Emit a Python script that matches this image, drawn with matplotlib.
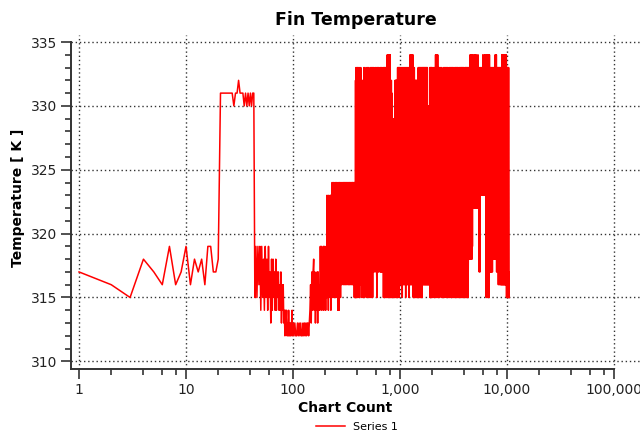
import matplotlib.pyplot as plt
from matplotlib.ticker import LogLocator, MultipleLocator, FuncFormatter, NullFormatter

# keep every vertex of the oscillating trace
plt.rcParams['path.simplify'] = False

# start-up: one value per iteration, 1-43
startup_counts = list(range(1, 44))
startup_temps = [317, 316, 315, 318, 317, 316, 319, 316, 317, 319,
                 316, 318, 317, 318, 316, 319, 319, 317, 317, 318,
                 331, 331, 331, 331, 331, 331, 331, 330, 331, 331,
                 332, 331, 331, 331, 330, 331, 330, 331, 330, 331,
                 330, 331, 331]

# sudden drop and cool-down, iterations 44-99
cooldown_counts = list(range(44, 100))
cooldown_temps = [315, 319, 315, 319, 316, 319, 314, 319, 315, 318,
                  314, 319, 315, 318, 314, 319, 315, 317, 313, 318,
                  314, 318, 315, 317, 314, 318, 314, 317, 315, 317,
                  314, 316, 314, 317, 313, 316, 314, 316, 313, 314,
                  312, 314, 313, 314, 312, 313, 312, 314, 312, 313,
                  312, 313, 312, 313, 314, 312]

# recovery, every 2nd iteration from 100
recovery_counts = list(range(100, 400, 2))
recovery_temps = [313, 312, 313, 312, 312, 313, 312, 313, 312, 313,
                  312, 312, 313, 312, 313, 312, 313, 312, 313, 313,
                  312, 313,
                  314, 316, 313, 317, 314, 317, 318, 314, 317, 313,
                  316, 314, 317, 313, 317, 314, 316, 314,
                  319, 315, 319, 314, 318, 315, 319, 314, 319, 315,
                  318, 314, 319, 315,
                  323, 315, 322, 314, 323, 316, 322, 315, 323, 314,
                  323, 316,
                  324, 315, 323, 315, 324, 316, 323, 315, 324, 315,
                  323, 316, 324, 315, 323, 314, 324, 315, 323, 314,
                  324, 315, 323, 315,
                  324, 317, 323, 316, 324, 317, 323, 317, 324, 316,
                  323, 317, 324, 316, 324, 317, 323, 316, 324, 317,
                  323, 317, 324, 316, 323, 317, 324, 316, 324, 317,
                  323, 316, 324, 317, 323, 317, 324, 316, 323, 317,
                  324, 316, 324, 317, 323, 316,
                  324, 315, 323, 315, 324, 315, 332, 315, 333, 315,
                  332, 315, 333, 315]

# oscillating phase, sampled more sparsely as the count grows
osc_counts_a = list(range(400, 1000, 5))
osc_temps_a = [333, 315, 333, 315, 333, 316, 333, 315,
               332, 315, 332, 315,
               333, 315, 333, 316, 332, 315, 333, 315, 333, 316,
               333, 315, 332, 315, 333, 315, 333, 316, 333, 315,
               333, 317, 333, 317, 332, 318, 333, 317, 333, 317,
               315, 333, 317, 333, 317, 333, 318, 332, 317, 333,
               317, 333, 317, 333, 317, 332, 317, 333,
               315, 333, 315, 333, 315, 333, 316, 333, 315, 333,
               315, 333,
               334, 315, 334, 315, 334, 316, 334, 315, 334, 315,
               334, 315,
               331, 315, 332, 315, 331, 315,
               329, 315, 328, 316, 329, 315, 328, 315, 329,
               315, 332, 315, 332, 316, 332, 315, 332, 315, 332,
               315,
               333, 316, 333, 315, 333, 316, 333, 315, 333, 316]

osc_counts_b = list(range(1000, 2000, 10))
osc_temps_b = [333, 316, 333, 316, 333, 315, 333, 316, 333, 316,
               333, 316, 333, 315, 333, 316, 333, 316, 333, 316,
               333, 315, 333,
               316, 334, 316, 334, 316, 334, 316, 334, 316, 334,
               315, 333, 315, 333,
               315, 332, 315, 332, 315, 332, 315, 332, 315, 332,
               315, 333, 315, 333, 315, 333, 315, 333, 315, 333,
               315, 333, 315, 333, 315, 333, 316, 333, 316, 333,
               316, 333, 316, 333, 316,
               333, 316, 333, 316, 333, 316, 333, 316, 333, 316,
               330, 316, 329, 316, 330, 316, 329, 316,
               333, 315, 333, 315, 333, 315, 333, 315, 333, 315]

osc_counts_c = list(range(2000, 5000, 25))
osc_temps_c = [333, 315, 333, 315, 333, 315,
               334, 315, 334, 315, 334,
               315, 333, 315, 333, 316, 333, 315, 333, 315, 332,
               315, 333, 315, 333, 315, 333, 316, 333, 315, 333,
               315, 333, 315, 332, 315, 333, 315, 333, 316, 333,
               315, 333, 315, 333, 315, 333, 315, 332, 315, 333,
               316, 333, 315, 333, 315, 333, 315, 333, 315, 333,
               315, 332, 315, 333, 316, 333, 315, 333, 315, 333,
               315, 333, 315, 333, 315, 333, 316, 333, 315, 332,
               315, 333, 315, 333, 315, 333, 315, 333, 315, 333,
               315, 333, 315,
               318, 333, 318, 333, 318, 333,
               318, 334, 318, 334, 319, 334, 318, 334, 318, 334,
               319, 334,
               322, 333, 322, 333, 323, 334, 322, 333]

osc_counts_d = list(range(5000, 10501, 50))
osc_temps_d = [322, 334, 322, 334, 322, 333, 322, 334, 322, 333,
               317, 333, 317, 333,
               323, 333, 323, 333, 323, 334, 323, 333, 323, 334,
               323, 333, 323, 334,
               315, 334, 315, 334, 315, 334, 315, 334, 315, 334,
               317, 333, 317, 333, 317, 333, 317, 333, 317, 333,
               318, 333, 318, 333, 318, 333, 318, 334, 318, 334,
               318, 334,
               317, 333, 317, 333, 317, 333, 316, 333, 317, 333,
               316, 333, 317, 333, 316, 333, 316, 333,
               316, 334, 316, 334, 316, 334, 316, 334, 316, 334,
               316, 334, 316, 334, 316, 334, 316, 334, 316, 334,
               315, 333, 315, 333, 315, 333, 315, 333, 315, 333,
               315, 317, 315]

counts = (startup_counts + cooldown_counts + recovery_counts
          + osc_counts_a + osc_counts_b + osc_counts_c + osc_counts_d)
temps = (startup_temps + cooldown_temps + recovery_temps
         + osc_temps_a + osc_temps_b + osc_temps_c + osc_temps_d)

x_lo, x_hi = 10 ** -0.075, 10 ** 5.243
y_lo, y_hi = 309.4, 335.55

fig = plt.figure(figsize=(6.4, 4.33), dpi=100)
ax = fig.add_axes([71 / 640, 1 - 369 / 433, 569 / 640, 334 / 433])

line, = ax.plot(counts, temps, color='#ff0000', linewidth=1.1, label='Series 1')

ax.set_xscale('log')
ax.set_xlim(x_lo, x_hi)
ax.set_ylim(y_lo, y_hi)

for side in ('top', 'right'):
    ax.spines[side].set_visible(False)
ax.spines['left'].set_bounds(y_lo, 335)
ax.spines['bottom'].set_bounds(x_lo, 1e5)
for side in ('left', 'bottom'):
    ax.spines[side].set_color('#333333')
    ax.spines[side].set_linewidth(1.4)

ax.yaxis.set_major_locator(MultipleLocator(5))
ax.yaxis.set_minor_locator(MultipleLocator(1))
ax.xaxis.set_major_locator(LogLocator(base=10, numticks=10))
ax.xaxis.set_minor_locator(LogLocator(base=10, subs=(2, 4, 6, 8), numticks=20))
ax.xaxis.set_major_formatter(FuncFormatter(lambda v, p: f'{v:,.0f}'))
ax.xaxis.set_minor_formatter(NullFormatter())

ax.tick_params(which='major', direction='out', length=7, width=1.2,
               color='#333333', labelsize=10, labelcolor='#222222', pad=3)
ax.tick_params(which='minor', direction='out', length=4, width=1.2,
               color='#333333')

ax.grid(True, which='major', color='#333333', linestyle=(0, (1, 2)), linewidth=1)
ax.set_axisbelow(True)

fig.text(356 / 640, 1 - 20 / 433, 'Fin Temperature', ha='center', va='center',
         fontsize=12.5, fontweight='bold')
fig.text(345 / 640, 1 - 408 / 433, 'Chart Count', ha='center', va='center',
         fontsize=10, fontweight='bold')
fig.text(18 / 640, 1 - 198 / 433, 'Temperature [ K ]', ha='center', va='center',
         rotation=90, fontsize=10, fontweight='bold')

fig.legend(handles=[line], loc='center', bbox_to_anchor=(357 / 640, 1 - 427 / 433),
           frameon=False, fontsize=8, handlelength=2.6, handletextpad=0.8)

fig.savefig('out.png', dpi=100)
